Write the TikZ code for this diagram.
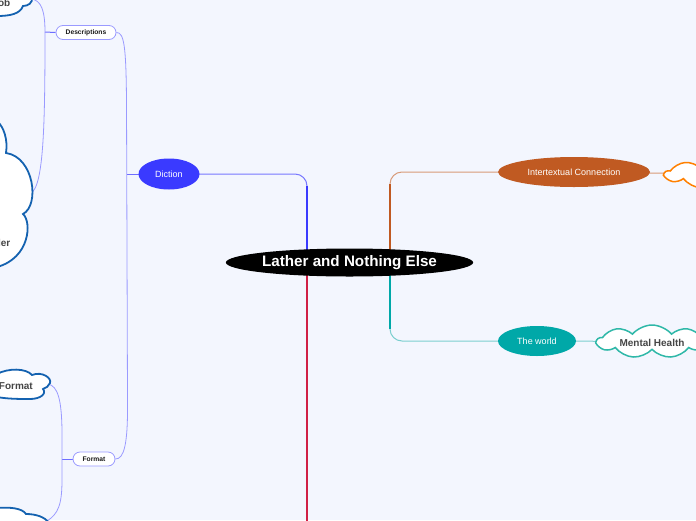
\documentclass[tikz,border=0pt]{standalone}
\usepackage{fontspec}
\setmainfont{Liberation Sans}
\usetikzlibrary{shapes.geometric,shapes.symbols,calc}
\pgfdeclarelayer{bglayer}
\pgfdeclarelayer{edges}
\pgfsetlayers{bglayer,edges,main}
\definecolor{bgc}{HTML}{F3F6FE}
\definecolor{dictc}{HTML}{3A3AFF}
\definecolor{dictl}{HTML}{7878FF}
\definecolor{lilac}{HTML}{9A9AFF}
\definecolor{lilacd}{HTML}{6E6EFF}
\definecolor{interc}{HTML}{C05A22}
\definecolor{interl}{HTML}{D89A78}
\definecolor{worldc}{HTML}{00A8A8}
\definecolor{worldl}{HTML}{7CCFCF}
\definecolor{redc}{HTML}{D01F45}
\definecolor{cloudblue}{HTML}{1462B0}
\definecolor{orangec}{HTML}{FF8000}
\definecolor{tealc}{HTML}{2FB8A8}
\definecolor{txtgray}{HTML}{454545}
\begin{document}
\begin{tikzpicture}[x=1pt,y=-1pt,
  topic/.style={ellipse,inner sep=0pt,text=white,font=\fontsize{9}{10}\selectfont},
  subbox/.style={draw=lilac,line width=0.8pt,fill=white,rounded corners=7pt,minimum height=14pt,inner sep=0pt,font=\bfseries\fontsize{6.7}{7}\selectfont,text=black!90},
  bluecloud/.style={draw=cloudblue,line width=1.8pt,fill=white},
  cloudtxt/.style={font=\bfseries\fontsize{10}{12}\selectfont,text=txtgray,inner sep=0pt},
  leafline/.style={draw=lilac,line width=0.8pt},
  joinline/.style={draw=lilacd,line width=1pt},
  shapecloud/.style={cloud,cloud puffs=9,cloud puff arc=100,fill=white,inner sep=0pt,line width=1.5pt}
]
\useasboundingbox (0,0) rectangle (696,520);
\begin{pgfonlayer}{bglayer}
  \fill[bgc] (0,0) rectangle (696,520);
\end{pgfonlayer}

% main nodes
\node[ellipse,fill=black,minimum width=247pt,minimum height=28pt,inner sep=0pt,text=white,font=\bfseries\fontsize{15.2}{16}\selectfont] (root) at (349.5,262.5) {Lather and Nothing Else};
\node[topic,fill=dictc,minimum width=61pt,minimum height=31pt] (diction) at (169,174) {Diction};
\node[topic,fill=interc,minimum width=152pt,minimum height=30pt] (inter) at (574,172) {Intertextual Connection};
\node[topic,fill=worldc,minimum width=78pt,minimum height=30pt] (world) at (537,341) {The world};

\node[subbox,minimum width=60pt] (desc) at (86,32.5) {Descriptions};
\node[subbox,minimum width=42pt] (fmt) at (94,459) {Format};

% clouds right
\node[shapecloud,draw=tealc,aspect=3.3,minimum width=110pt,minimum height=33pt] (mh) at (652,341.5) {};
\node[cloudtxt] (mhtxt) at (652,343) {Mental Health};
\node[shapecloud,draw=orangec,aspect=3.5,minimum width=112pt,minimum height=30pt] (oc) at (721,174) {};

% clouds left (partly outside the page)
\draw[bluecloud] (-3,16) .. controls (10,16) and (20,14) .. (23,6)
   .. controls (28,6) and (33,3) .. (32,-3) -- (-3,-3) -- cycle;
\node[cloudtxt,anchor=east] (t1) at (10.5,3) {ob};
\draw[bluecloud] (-3,121) .. controls (4,127) and (8,140) .. (6,153)
   .. controls (34,157) and (40,205) .. (23,214)
   .. controls (32,222) and (30,258) .. (-3,267) -- cycle;
\node[cloudtxt,anchor=east] (t2) at (10.5,243) {ler};
\draw[bluecloud] (-3,374) .. controls (8,368) and (26,368) .. (32,375)
   .. controls (42,371) and (52,378) .. (50,383)
   .. controls (49,386) and (46,388) .. (43,389)
   .. controls (47,394) and (40,399) .. (30,399)
   .. controls (20,399) and (8,399) .. (-3,397) -- cycle;
\node[cloudtxt,anchor=east] (t3) at (33,386) {Format};
\draw[bluecloud] (-3,508) .. controls (10,507) and (22,508) .. (26,514)
   .. controls (36,514) and (45,517) .. (49,523) -- (-3,523) -- cycle;

% anchor coordinates
\coordinate (rl) at (307,262);
\coordinate (rr) at (390,262);
\coordinate (dtop1) at (307,186);
\coordinate (dtop2) at (307,212);
\coordinate (redend) at (307,530);
\coordinate (itop1) at (390,184);
\coordinate (itop2) at (390,210);
\coordinate (wbot1) at (390,329);
\coordinate (wbot2) at (390,305);
\coordinate (dv) at (127,174);
\coordinate (dj) at (45,32);
\coordinate (fj) at (62,459);
\coordinate (c1r) at (31,-1);
\coordinate (c2r) at (31,193);
\coordinate (c3r) at (48,384);
\coordinate (c4r) at (47,521);

\begin{pgfonlayer}{edges}
  % main branches
  \draw[dictl,line width=1pt,rounded corners=12pt] (diction.center) -| (rl);
  \draw[dictc,line width=1.6pt] (dtop1) -- (rl);
  \draw[dictc,line width=2.2pt] (dtop2) -- (rl);
  \draw[redc,line width=2.2pt] (rl) -- (redend);
  \draw[interl,line width=1pt,rounded corners=12pt] (inter.center) -| (rr);
  \draw[interc,line width=1.6pt] (itop1) -- (rr);
  \draw[interc,line width=2.2pt] (itop2) -- (rr);
  \draw[worldl,line width=1pt,rounded corners=12pt] (world.center) -| (rr);
  \draw[worldc,line width=1.6pt] (wbot1) -- (rr);
  \draw[worldc,line width=2.2pt] (wbot2) -- (rr);
  \draw[interl,line width=1pt] (inter.center) -- (oc.center);
  \draw[worldl,line width=1pt] (world.center) -- (mh.center);
  % diction children
  \draw[joinline] (diction.center) -- (dv);
  \draw[leafline] (desc.east) .. controls (124,32.5) and (126,45) .. (126.5,100)
     -- (127.5,400) .. controls (128,445) and (124,459) .. (fmt.east);
  % descriptions children
  \draw[joinline] (desc.west) -- (dj);
  \draw[leafline] (c1r) .. controls (41,0) and (45,10) .. (dj)
     .. controls (45,120) and (44,186) .. (c2r);
  % format children
  \draw[joinline] (fmt.west) -- (fj);
  \draw[leafline] (c3r) .. controls (58,386) and (61.5,400) .. (62,430)
     -- (62,480) .. controls (62,505) and (58,514) .. (c4r);
\end{pgfonlayer}
\end{tikzpicture}
\end{document}
